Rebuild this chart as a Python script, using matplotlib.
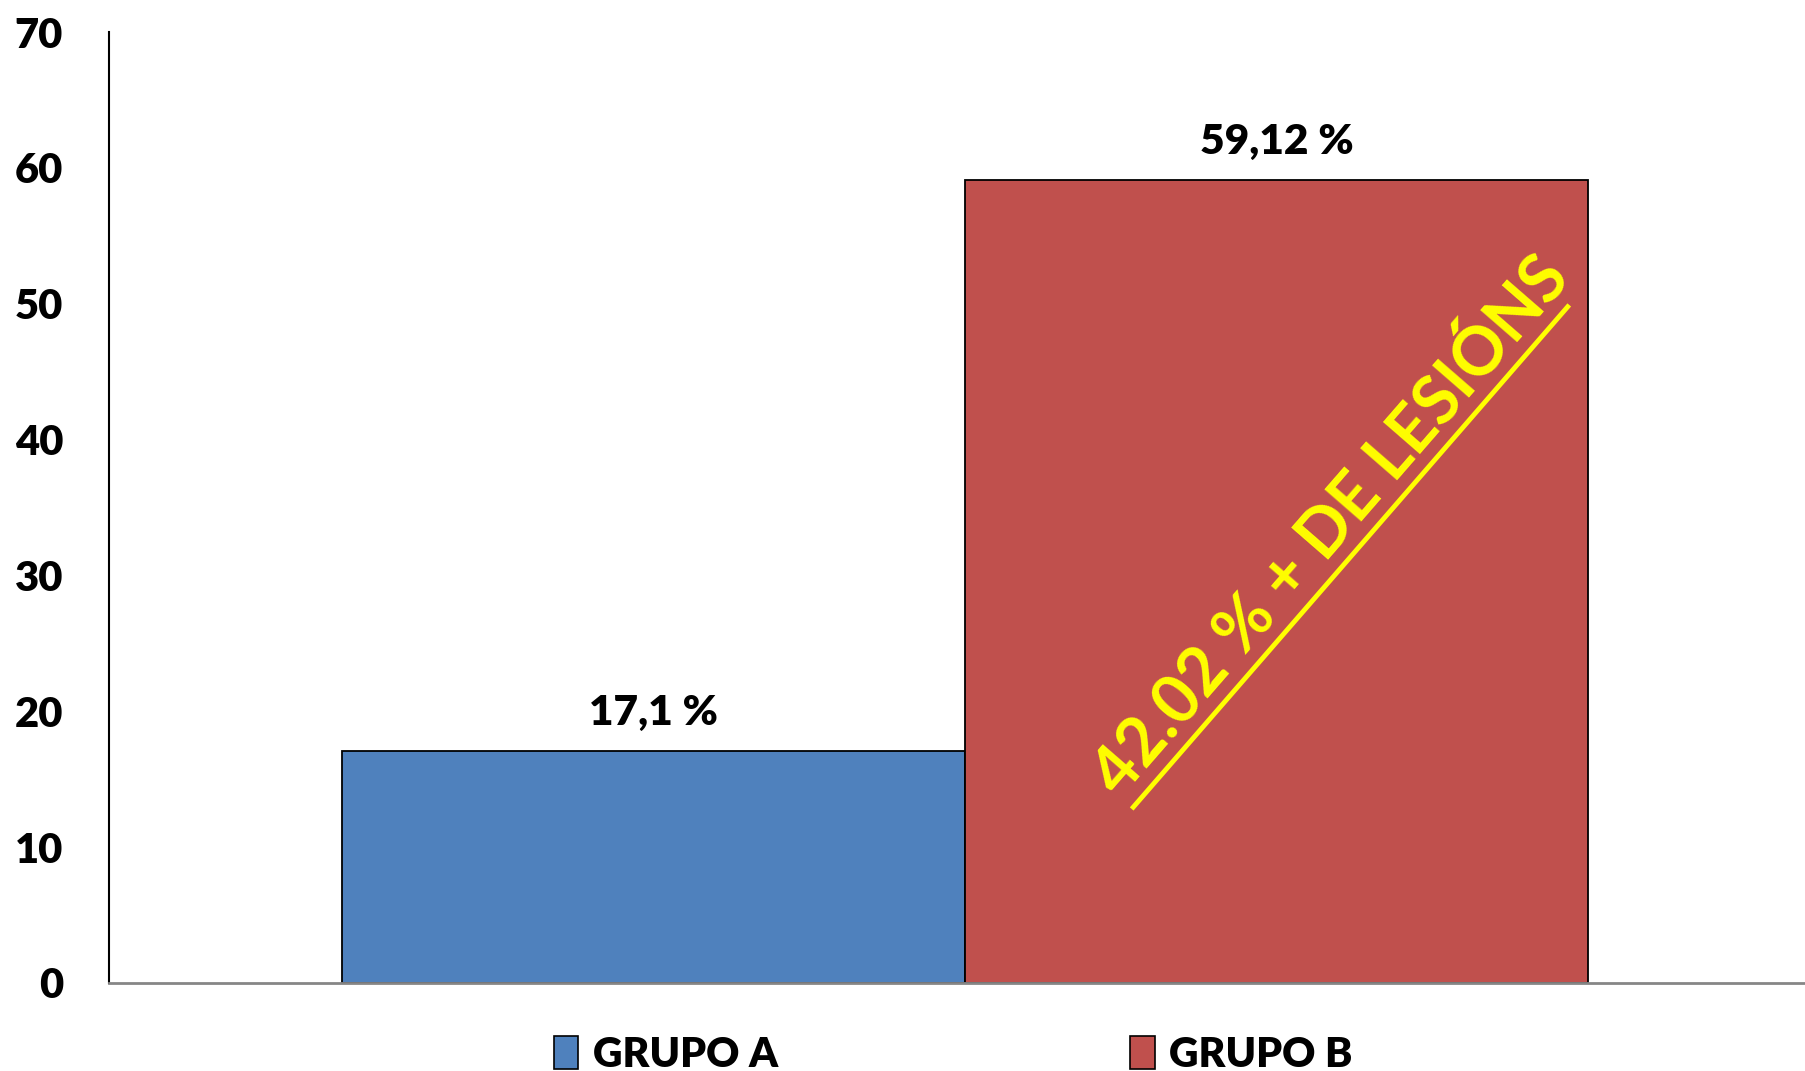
import matplotlib
matplotlib.use("Agg")
import matplotlib.pyplot as plt
from matplotlib.patches import Patch

plt.rcParams['font.family'] = ['Lato', 'DejaVu Sans']
plt.rcParams['font.weight'] = 'heavy'

# Data
groups = ["GRUPO A", "GRUPO B"]
values = [17.1, 59.12]
value_labels = ["17,1 %", "59,12 %"]
colors = ["#4F81BD", "#C0504D"]
yticks = [0, 10, 20, 30, 40, 50, 60, 70]
note_text = "42.02 % + DE LESIÓNS"

fig = plt.figure(figsize=(18.05, 10.71), dpi=100)
W, H = 1805, 1071
ax = fig.add_axes([109 / W, 1 - 983 / H, (1805 - 109) / W, (983 - 32) / H])

offsets = [-0.5, 0.5]
bars = ax.bar(offsets, values, width=1.0, color=colors, edgecolor="black", linewidth=1.3, zorder=2)

ax.set_xlim(-1.374, 1.348)
ax.set_ylim(0, 70)
ax.set_yticks(yticks)
ax.set_yticklabels([str(t) for t in yticks], fontsize=30, fontweight='heavy')
ax.tick_params(axis='y', length=0, pad=33)
ax.set_xticks([])
for s in ["top", "right"]:
    ax.spines[s].set_visible(False)
ax.spines["left"].set_color("black")
ax.spines["left"].set_linewidth(1.5)
ax.spines["bottom"].set_color("#868686")
ax.spines["bottom"].set_linewidth(2)

for b, lab in zip(bars, value_labels):
    ax.annotate(lab, (b.get_x() + b.get_width() / 2, b.get_height()),
                xytext=(0, 27), textcoords="offset points",
                ha="center", va="center", fontsize=30.5, fontweight="heavy", color="black")

# Annotation on group B bar
ax.text(0.721, 0.479, note_text, transform=ax.transAxes, rotation=49,
        rotation_mode="anchor", ha="center", va="center",
        fontsize=48, fontweight="bold", color="#FFFF00", zorder=3)
ax.plot([0.603, 0.861], [0.183, 0.713], transform=ax.transAxes,
        color="#FFFF00", linewidth=3.5, zorder=3, solid_capstyle="butt")

handles = [Patch(facecolor=c, edgecolor="black", linewidth=1.2) for c in colors]
fig.legend(handles, groups, loc="center", bbox_to_anchor=(0.528, 1 - 1055 / H),
           ncol=2, frameon=False, handlelength=0.6, handleheight=0.85,
           handletextpad=0.35, columnspacing=8.6, prop={'weight': 'heavy', 'size': 29.5})

fig.savefig("out.png", dpi=100)
